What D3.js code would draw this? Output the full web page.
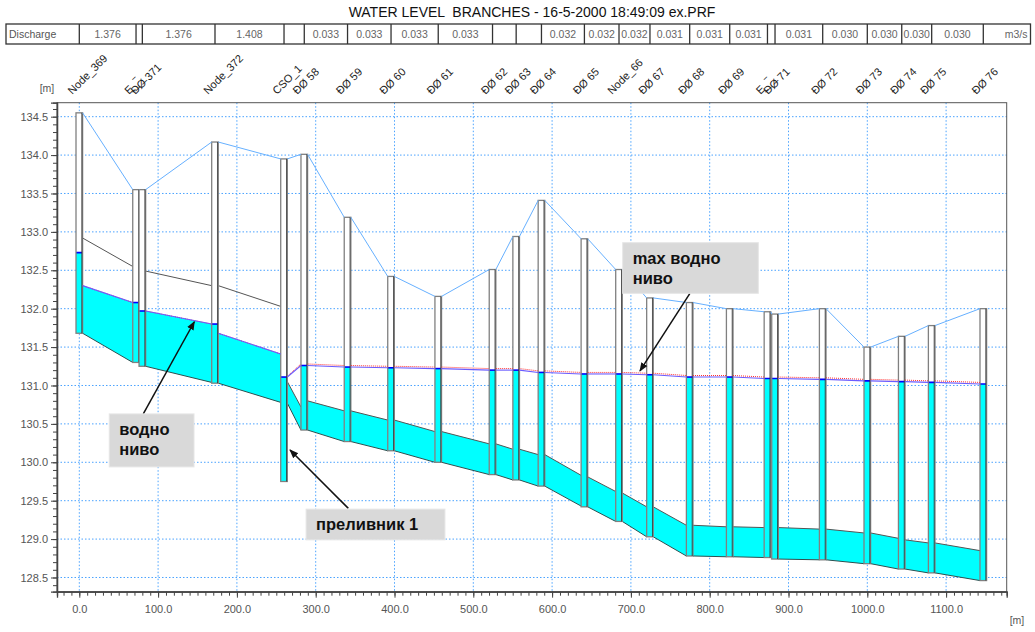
<!DOCTYPE html>
<html><head><meta charset="utf-8">
<script src="https://cdn.jsdelivr.net/npm/d3@7"></script>
<style>body{margin:0;background:#fff;} svg{display:block;font-family:"Liberation Sans",Arial,sans-serif;}</style>
</head><body><svg id="c" width="1035" height="632"></svg>
<script>
// ---------- DATA ----------
const titleText = "WATER LEVEL  BRANCHES - 16-5-2000 18:49:09 ex.PRF";
const nodeNames = ["Node_369","E_\u203E_","\u0110\u00D8 371","Node_372","CSO_1","\u0110\u00D8 58","\u0110\u00D8 59","\u0110\u00D8 60","\u0110\u00D8 61","\u0110\u00D8 62","\u0110\u00D8 63","\u0110\u00D8 64","\u0110\u00D8 65","Node_66","\u0110\u00D8 67","\u0110\u00D8 68","\u0110\u00D8 69","E_\u203E_","\u0110\u00D8 71","\u0110\u00D8 72","\u0110\u00D8 73","\u0110\u00D8 74","\u0110\u00D8 75","\u0110\u00D8 76"];
const nodeChain   = [0,72,80,172.2,259.8,285.5,340.4,395.6,455.5,524.4,554.4,586.5,641,684.9,724.2,774.6,825.4,873.3,882.9,943.4,1000,1043.7,1081.7,1147.2];
const groundLevel = [134.55,133.55,133.55,134.17,133.95,134.01,133.19,132.42,132.16,132.51,132.94,133.41,132.91,132.51,132.14,132.08,132.00,131.96,131.93,132.00,131.50,131.64,131.78,132.00];
const bottomLevel = [131.68,131.30,131.25,131.03,129.75,130.42,130.27,130.15,130.00,129.84,129.77,129.69,129.42,129.23,129.03,128.78,128.77,128.76,128.74,128.73,128.68,128.61,128.56,128.46];
const nodeWater   = [132.73,132.08,131.97,131.80,131.11,131.26,131.24,131.23,131.22,131.20,131.20,131.17,131.15,131.15,131.14,131.11,131.11,131.09,131.09,131.08,131.06,131.05,131.04,131.02];

const pipeFrom       = [0,2,3,4,5,6,7,8,9,10,11,12,13,14,15,16,18,19,20,21,22];
const pipeInvStart   = [131.68,131.25,131.03,130.77,130.42,130.27,130.15,130.00,129.84,129.77,129.69,129.42,129.23,129.03,128.78,128.77,128.74,128.73,128.68,128.61,128.56];
const pipeInvEnd     = [131.30,131.04,130.78,130.42,130.27,130.15,130.00,129.84,129.77,129.69,129.43,129.23,129.03,128.78,128.77,128.76,128.73,128.68,128.61,128.56,128.46];
const pipeCrownStart = [132.92,132.49,132.30,131.05,130.80,130.67,130.55,130.40,130.24,130.17,130.10,129.81,129.60,129.42,129.18,129.16,129.15,129.13,129.08,128.99,128.95];
const pipeCrownEnd   = [132.55,132.30,132.03,130.72,130.67,130.55,130.40,130.24,130.17,130.10,129.83,129.62,129.42,129.18,129.16,129.15,129.13,129.08,129.01,128.95,128.85];
const pipeWaterStart = [132.30,131.97,131.68,131.11,131.26,131.24,131.23,131.22,131.20,131.20,131.17,131.15,131.15,131.14,131.11,131.11,131.09,131.08,131.06,131.05,131.04];
const pipeWaterEnd   = [132.08,131.80,131.41,131.26,131.24,131.23,131.22,131.20,131.20,131.17,131.15,131.15,131.14,131.11,131.11,131.09,131.08,131.06,131.05,131.04,131.02];
const pipeMaxStart   = [132.30,131.97,131.68,131.12,131.28,131.26,131.25,131.24,131.22,131.22,131.19,131.17,131.17,131.16,131.13,131.13,131.11,131.10,131.08,131.07,131.06];
const pipeMaxEnd     = [132.08,131.80,131.41,131.28,131.26,131.25,131.24,131.22,131.22,131.19,131.17,131.17,131.16,131.13,131.13,131.11,131.10,131.08,131.07,131.06,131.04];

const dischargeLabel = "Discharge";
const dischargeUnit = "m3/s";
const dischargeValues = ["1.376","","1.376","1.408","","0.033","0.033","0.033","0.033","","","0.032","0.032","0.032","0.031","0.031","0.031","","0.031","0.030","0.030","0.030","0.030"];

const xTicks = [0,100,200,300,400,500,600,700,800,900,1000,1100];
const yTicks = [128.5,129.0,129.5,130.0,130.5,131.0,131.5,132.0,132.5,133.0,133.5,134.0,134.5];
const xDomain = [-28.3,1176.9];
const yDomain = [128.315,134.682];

const annotTexts = [["водно","ниво"],["преливник 1"],["max водно","ниво"]];
const annotBox   = [[38,130.63,145.6,129.94],[287.8,129.39,464,128.99],[689.6,132.86,861.7,132.20]];
const annotArrow = [[81.2,130.63,146,131.83],[341.4,129.40,267.4,130.16],[774.9,132.20,711.5,131.19]];

// ---------- DRAW ----------
const svg = d3.select("#c");
const L=57, R=1006.7, T=102.7, B=591.7;
const x = d3.scaleLinear().domain(xDomain).range([L,R]);
const y = d3.scaleLinear().domain(yDomain).range([B,T]);
const MW = 6.6; // manhole width px

const defs = svg.append("defs");
defs.append("marker").attr("id","ah").attr("viewBox","0 0 10 10").attr("refX",9).attr("refY",5)
  .attr("markerWidth",9).attr("markerHeight",9).attr("markerUnits","userSpaceOnUse").attr("orient","auto")
  .append("path").attr("d","M0,1 L10,5 L0,9 z").attr("fill","#111");
defs.append("clipPath").attr("id","pc").append("rect").attr("x",L).attr("y",T).attr("width",R-L).attr("height",B-T);

// title
svg.append("text").attr("x",532).attr("y",17).attr("text-anchor","middle").attr("font-size",14).attr("fill","#111")
  .style("white-space","pre").attr("xml:space","preserve").text(titleText);

// discharge table
const tb = svg.append("g");
const tTop=24, tBot=44, tLeft=6, tRight=1030.5;
tb.append("rect").attr("x",tLeft).attr("y",tTop).attr("width",tRight-tLeft).attr("height",tBot-tTop).attr("fill","none").attr("stroke","#333").attr("stroke-width",1.3);
nodeChain.forEach((c)=>{
  tb.append("line").attr("x1",x(c)).attr("x2",x(c)).attr("y1",tTop).attr("y2",tBot).attr("stroke","#333").attr("stroke-width",1.3);
});
tb.append("text").attr("x",tLeft+3).attr("y",37.5).attr("font-size",10.5).attr("fill","#555").text(dischargeLabel);
dischargeValues.forEach((v,i)=>{
  if(!v) return;
  const cx=(x(nodeChain[i])+x(nodeChain[i+1]))/2;
  tb.append("text").attr("x",cx).attr("y",37.5).attr("text-anchor","middle").attr("font-size",10.5).attr("fill","#666").text(v);
});
tb.append("text").attr("x",tRight-3).attr("y",37.5).attr("text-anchor","end").attr("font-size",10.5).attr("fill","#666").text(dischargeUnit);

// grid
const grid = svg.append("g").attr("stroke","#4aa3ff").attr("stroke-width",1).attr("stroke-dasharray","1.5,2");
xTicks.forEach(t=>grid.append("line").attr("x1",x(t)).attr("x2",x(t)).attr("y1",T).attr("y2",B));
yTicks.forEach(t=>grid.append("line").attr("x1",L).attr("x2",R).attr("y1",y(t)).attr("y2",y(t)));

// frame
svg.append("rect").attr("x",L).attr("y",T).attr("width",R-L).attr("height",B-T).attr("fill","none").attr("stroke","#555").attr("stroke-width",1);

// axes
const minorX = d3.range(-20,1171,10);
const minorY = d3.range(1284,1347,1).map(d=>d/10);
const axL = svg.append("g").attr("transform",`translate(${L},0)`).call(d3.axisLeft(y).tickValues(minorY).tickSize(4).tickFormat(""));
const axL2 = svg.append("g").attr("transform",`translate(${L},0)`).call(d3.axisLeft(y).tickValues(yTicks).tickSize(6).tickPadding(3).tickFormat(d3.format(".1f")));
const axB = svg.append("g").attr("transform",`translate(0,${B})`).call(d3.axisBottom(x).tickValues(minorX).tickSize(4).tickFormat(""));
const axB2 = svg.append("g").attr("transform",`translate(0,${B})`).call(d3.axisBottom(x).tickValues(xTicks).tickSize(6).tickPadding(8).tickFormat(d3.format(".1f")));
[axL,axL2,axB,axB2].forEach(a=>{
  a.selectAll("path").attr("stroke","#444").attr("stroke-width",1.3);
  a.selectAll("line").attr("stroke","#444");
  a.selectAll("text").attr("fill","#555").attr("font-size",11).attr("font-family","Liberation Sans, Arial, sans-serif");
});
svg.append("text").attr("x",47).attr("y",92).attr("text-anchor","middle").attr("font-size",10.5).attr("fill","#555").text("[m]");
svg.append("text").attr("x",1017).attr("y",624).attr("text-anchor","middle").attr("font-size",10.5).attr("fill","#555").text("[m]");

// node labels
nodeNames.forEach((n,i)=>{
  const px=x(nodeChain[i])-7, py=95;
  svg.append("text").attr("transform",`translate(${px},${py}) rotate(-45)`).attr("font-size",11).attr("fill","#222").text(n);
});

const g = svg.append("g").attr("clip-path","url(#pc)");

// pipes fill
pipeFrom.forEach((f,k)=>{
  const x1=x(nodeChain[f])+MW/2, x2=x(nodeChain[f+1])-MW/2;
  const t1=Math.min(pipeWaterStart[k],pipeCrownStart[k]), t2=Math.min(pipeWaterEnd[k],pipeCrownEnd[k]);
  g.append("path").attr("d",`M${x1},${y(pipeInvStart[k])}L${x2},${y(pipeInvEnd[k])}L${x2},${y(t2)}L${x1},${y(t1)}Z`)
    .attr("fill","#00ffff").attr("stroke","none");
  g.append("line").attr("x1",x1).attr("x2",x2).attr("y1",y(pipeInvStart[k])).attr("y2",y(pipeInvEnd[k])).attr("stroke","#2f4f4f").attr("stroke-width",1);
  g.append("line").attr("x1",x1).attr("x2",x2).attr("y1",y(pipeCrownStart[k])).attr("y2",y(pipeCrownEnd[k])).attr("stroke","#555").attr("stroke-width",1);
});

// manholes
nodeChain.forEach((c,i)=>{
  const cx=x(c);
  g.append("rect").attr("x",cx-MW/2).attr("y",y(groundLevel[i])).attr("width",MW).attr("height",y(bottomLevel[i])-y(groundLevel[i])).attr("fill","#fff");
  g.append("rect").attr("x",cx-MW/2).attr("y",y(nodeWater[i])).attr("width",MW).attr("height",y(bottomLevel[i])-y(nodeWater[i])).attr("fill","#00ffff");
  g.append("line").attr("x1",cx-MW/2).attr("x2",cx+MW/2).attr("y1",y(nodeWater[i])).attr("y2",y(nodeWater[i])).attr("stroke","#0000ff").attr("stroke-width",1.6);
  g.append("rect").attr("x",cx-MW/2).attr("y",y(groundLevel[i])).attr("width",MW).attr("height",y(bottomLevel[i])-y(groundLevel[i])).attr("fill","none").attr("stroke","#808080").attr("stroke-width",1.3);
  g.append("line").attr("x1",cx+MW/2-0.8).attr("x2",cx+MW/2-0.8).attr("y1",y(groundLevel[i])).attr("y2",y(bottomLevel[i])).attr("stroke","#333").attr("stroke-width",0.8);
});

// ground line
for(let i=0;i<nodeChain.length-1;i++){
  g.append("line").attr("x1",x(nodeChain[i])+MW/2).attr("y1",y(groundLevel[i]))
   .attr("x2",x(nodeChain[i+1])-MW/2).attr("y2",y(groundLevel[i+1])).attr("stroke","#66b0ff").attr("stroke-width",1);
}

// water & max lines
pipeFrom.forEach((f,k)=>{
  const x1=x(nodeChain[f])+MW/2, x2=x(nodeChain[f+1])-MW/2;
  g.append("line").attr("x1",x1).attr("x2",x2).attr("y1",y(pipeMaxStart[k])).attr("y2",y(pipeMaxEnd[k])).attr("stroke","#ff3030").attr("stroke-width",1).attr("stroke-dasharray","1,1");
  g.append("line").attr("x1",x1).attr("x2",x2).attr("y1",y(pipeWaterStart[k])).attr("y2",y(pipeWaterEnd[k])).attr("stroke","#6b5cff").attr("stroke-width",1.1);
});

// annotations
annotTexts.forEach((lines,i)=>{
  const b=annotBox[i], a=annotArrow[i];
  svg.append("line").attr("x1",x(a[0])).attr("y1",y(a[1])).attr("x2",x(a[2])).attr("y2",y(a[3])).attr("stroke","#111").attr("stroke-width",1.5).attr("marker-end","url(#ah)");
  svg.append("rect").attr("x",x(b[0])).attr("y",y(b[1])).attr("width",x(b[2])-x(b[0])).attr("height",y(b[3])-y(b[1])).attr("fill","#d9d9d9").attr("stroke","#e6e6e6");
  const h=y(b[3])-y(b[1]);
  const n=lines.length;
  lines.forEach((t,j)=>{
    const base = n===1 ? y(b[1])+h/2+6 : y(b[1])+21+j*20.5;
    svg.append("text").attr("x",x(b[0])+10).attr("y",base).attr("font-size",16.5).attr("font-weight","bold").attr("fill","#111").text(t);
  });
});
</script></body></html>
